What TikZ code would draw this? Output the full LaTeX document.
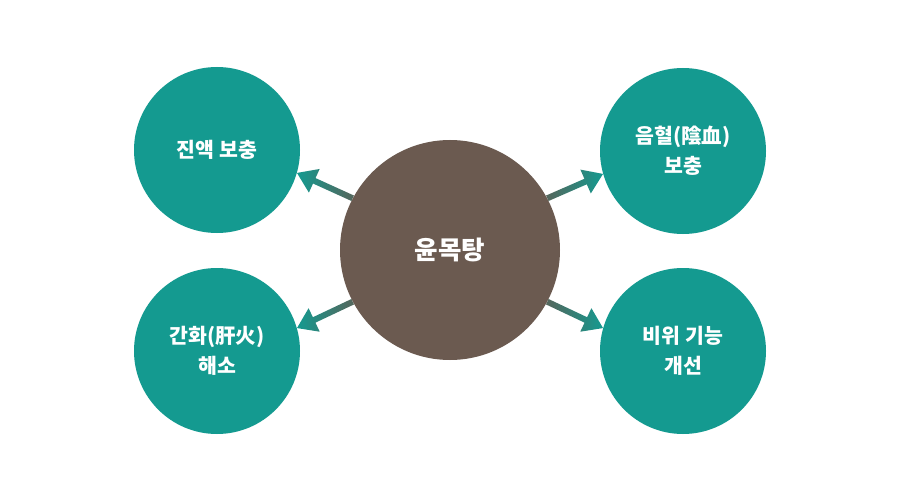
\documentclass[tikz,border=0pt]{standalone}
\usepackage{fontspec}
\newfontfamily\kr{Noto Sans CJK KR}
\usetikzlibrary{calc}
\definecolor{tealc}{HTML}{149A90}
\definecolor{brownc}{HTML}{6B5A50}
\definecolor{arrstart}{HTML}{55665C}
\tikzset{
  outer/.style={circle, minimum size=166pt, inner sep=0pt, fill=tealc, text=white,
    align=center, font=\kr\bfseries\fontsize{20.5}{30}\selectfont},
  hub/.style={circle, minimum size=220pt, inner sep=0pt, fill=brownc, text=white,
    font=\kr\bfseries\fontsize{25.5}{28}\selectfont}
}
\newcommand\gradarrow[4]{%
  \coordinate (hh) at ($(#2)!19pt!(#1)$);
  \shade[left color=#3, right color=#4]
    ($(#1)!3pt!90:(#2)$) -- ($(hh)!3pt!90:(#2)$) -- ($(hh)!13pt!90:(#2)$) -- (#2)
    -- ($(hh)!13pt!-90:(#2)$) -- ($(hh)!3pt!-90:(#2)$) -- ($(#1)!3pt!-90:(#2)$) -- cycle;
}
\begin{document}
\begin{tikzpicture}[x=1pt,y=-1pt]
\useasboundingbox (0,0) rectangle (900,500);
\node[hub] (c) at (450,250) {윤목탕};
\node[outer] (tl) at (217,150) {진액 보충};
\node[outer] (tr) at (683,151) {음혈(陰血)\\보충};
\node[outer] (bl) at (217,351) {간화(肝火)\\해소};
\node[outer] (br) at (683,351) {비위 기능\\개선};
\gradarrow{c.152}{tl.-16}{tealc}{arrstart}
\gradarrow{c.28}{tr.196}{arrstart}{tealc}
\gradarrow{c.208}{bl.16}{tealc}{arrstart}
\gradarrow{c.332}{br.164}{arrstart}{tealc}
\end{tikzpicture}
\end{document}
